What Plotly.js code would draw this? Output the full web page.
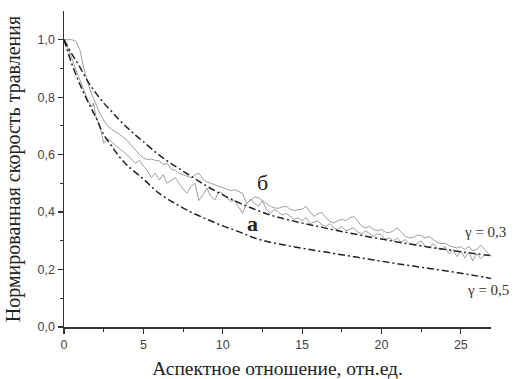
<!DOCTYPE html>
<html>
<head>
<meta charset="utf-8">
<script src="https://cdn.plot.ly/plotly-3.0.1.min.js"></script>
<style>html,body{margin:0;padding:0;background:#fff;}#chart{width:515px;height:379px;}</style>
</head>
<body>
<div id="chart"></div>
<script>
// γ = 0,3 model curve (dash-dot, upper)
const g3X = [0,0.5,1,1.5,2,2.5,3,3.5,4,4.5,5,6,7,8,9,10,11,12,13,14,15,16,17,18,19,20,21,22,23,24,25,26,27];
const g3Y = [1.0,0.95,0.905,0.855,0.815,0.78,0.75,0.72,0.693,0.668,0.645,0.598,0.56,0.525,0.49,0.46,0.433,0.41,0.39,0.375,0.362,0.35,0.338,0.327,0.316,0.306,0.296,0.287,0.278,0.27,0.262,0.255,0.248];

// γ = 0,5 model curve (dash-dot, lower)
const g5X = [0,0.5,1,1.5,2,2.5,3,3.5,4,5,6,7,8,9,10,11,12,13,14,15,16,17,18,19,20,21,22,23,24,25,26,27];
const g5Y = [1.0,0.915,0.845,0.785,0.73,0.67,0.63,0.592,0.562,0.515,0.465,0.43,0.4,0.375,0.352,0.332,0.31,0.295,0.284,0.274,0.265,0.256,0.247,0.238,0.229,0.22,0.212,0.204,0.196,0.187,0.178,0.168];

// curve "б" (measured, upper noisy)
const bX = [0,0.25,0.5,0.75,1,1.25,1.5,1.75,2,2.25,2.5,2.75,3,3.25,3.5,3.75,4,4.25,4.5,4.75,5,5.25,5.5,5.75,6,6.25,6.5,6.75,7,7.25,7.5,7.75,8,8.25,8.5,8.75,9,9.25,9.5,9.75,10,10.25,10.5,10.75,11,11.25,11.5,11.75,12,12.25,12.5,12.75,13,13.25,13.5,13.75,14,14.25,14.5,14.75,15,15.25,15.5,15.75,16,16.25,16.5,16.75,17,17.25,17.5,17.75,18,18.25,18.5,18.75,19,19.25,19.5,19.75,20,20.25,20.5,20.75,21,21.25,21.5,21.75,22,22.25,22.5,22.75,23,23.25,23.5,23.75,24,24.25,24.5,24.75,25,25.25,25.5,25.75,26,26.25,26.5,26.75];
const bY = [1.0,1.0,1.0,0.995,0.965,0.9,0.85,0.81,0.775,0.745,0.72,0.7,0.688,0.68,0.67,0.66,0.648,0.632,0.615,0.6,0.588,0.583,0.585,0.58,0.578,0.565,0.57,0.55,0.545,0.535,0.53,0.525,0.52,0.53,0.535,0.515,0.505,0.5,0.495,0.49,0.487,0.48,0.475,0.478,0.472,0.465,0.43,0.44,0.452,0.45,0.44,0.428,0.42,0.415,0.413,0.418,0.42,0.41,0.405,0.408,0.41,0.42,0.4,0.385,0.395,0.398,0.38,0.368,0.362,0.37,0.375,0.37,0.38,0.385,0.37,0.35,0.345,0.35,0.34,0.335,0.34,0.33,0.328,0.335,0.345,0.33,0.315,0.31,0.312,0.32,0.318,0.31,0.315,0.305,0.295,0.29,0.292,0.283,0.278,0.275,0.28,0.27,0.28,0.265,0.27,0.285,0.27,0.255];

// curve "а" (measured, lower noisy)
const aX = [0,0.25,0.5,0.75,1,1.25,1.5,1.75,1.85,2,2.25,2.5,2.75,3,3.25,3.5,3.75,4,4.25,4.5,4.75,5,5.25,5.5,5.75,6,6.25,6.5,6.75,7,7.25,7.5,7.75,8,8.25,8.5,8.75,9,9.25,9.5,9.75,10,10.25,10.5,10.75,11,11.25,11.5,11.75,12,12.25,12.5,12.75,13,13.25,13.5,13.75,14,14.25,14.5,14.75,15,15.25,15.5,15.75,16,16.25,16.5,16.75,17,17.25,17.5,17.75,18,18.25,18.5,18.75,19,19.25,19.5,19.75,20,20.25,20.5,20.75,21,21.25,21.5,21.75,22,22.25,22.5,22.75,23,23.25,23.5,23.75,24,24.25,24.5,24.75,25,25.25,25.5,25.75,26,26.25,26.5];
const aY = [1.0,0.97,0.935,0.895,0.86,0.82,0.79,0.765,0.78,0.735,0.7,0.64,0.655,0.645,0.632,0.62,0.61,0.598,0.585,0.57,0.58,0.56,0.545,0.52,0.535,0.512,0.53,0.5,0.51,0.52,0.5,0.48,0.466,0.49,0.5,0.44,0.46,0.483,0.455,0.442,0.47,0.465,0.45,0.437,0.44,0.42,0.396,0.43,0.445,0.43,0.42,0.44,0.41,0.395,0.41,0.4,0.39,0.395,0.385,0.375,0.38,0.37,0.38,0.36,0.365,0.37,0.355,0.35,0.36,0.345,0.34,0.35,0.335,0.34,0.345,0.33,0.325,0.335,0.325,0.315,0.325,0.32,0.305,0.31,0.3,0.31,0.295,0.305,0.29,0.285,0.29,0.3,0.282,0.275,0.29,0.275,0.268,0.28,0.255,0.27,0.245,0.265,0.24,0.26,0.23,0.255,0.238,0.25];

const xTickVals = [0,5,10,15,20,25];
const xTickText = ['0','5','10','15','20','25'];
const yTickVals = [0,0.2,0.4,0.6,0.8,1.0];
const yTickText = ['0,0','0,2','0,4','0,6','0,8','1,0'];

const serif = 'Liberation Serif';
const sans = 'Liberation Sans';

const traces = [
  {x:bX, y:bY, mode:'lines', line:{color:'#9e9e9e', width:1}, hoverinfo:'skip'},
  {x:aX, y:aY, mode:'lines', line:{color:'#9e9e9e', width:1}, hoverinfo:'skip'},
  {x:g3X, y:g3Y, mode:'lines', line:{color:'#222', width:1.5, dash:'7px,3px,2px,3px', shape:'spline'}, hoverinfo:'skip'},
  {x:g5X, y:g5Y, mode:'lines', line:{color:'#222', width:1.5, dash:'7px,3px,2px,3px', shape:'spline'}, hoverinfo:'skip'}
];

const layout = {
  width:515, height:379,
  margin:{l:64, r:24, t:11, b:52},
  paper_bgcolor:'#fff', plot_bgcolor:'#fff',
  showlegend:false,
  xaxis:{
    range:[0,26.9], showgrid:false, zeroline:false,
    showline:true, linecolor:'#333', linewidth:1.5,
    ticks:'outside', ticklen:5, tickwidth:1.2, tickcolor:'#333',
    tickvals:xTickVals, ticktext:xTickText,
    minor:{tickvals:[2.5,7.5,12.5,17.5,22.5], ticks:'outside', ticklen:3, tickwidth:1, tickcolor:'#333'},
    tickfont:{family:sans, size:12.5, color:'#444'},
    title:{text:'Аспектное отношение, отн.ед.', font:{family:serif, size:19.5, color:'#222'}, standoff:13}
  },
  yaxis:{
    range:[0,1.1], showgrid:false, zeroline:false,
    showline:true, linecolor:'#333', linewidth:1.5,
    ticks:'outside', ticklen:5, tickwidth:1.2, tickcolor:'#333',
    tickvals:yTickVals, ticktext:yTickText,
    minor:{tickvals:[0.1,0.3,0.5,0.7,0.9], ticks:'outside', ticklen:3, tickwidth:1, tickcolor:'#333'},
    tickfont:{family:sans, size:12.5, color:'#444'},
    title:{text:'Нормированная скорость травления', font:{family:serif, size:20, color:'#222'}, standoff:11}
  },
  annotations:[
    {x:12.5, y:0.502, xref:'x', yref:'y', text:'б', showarrow:false, font:{family:serif, size:22, color:'#222'}},
    {x:11.9, y:0.362, xref:'x', yref:'y', text:'<b>а</b>', showarrow:false, font:{family:serif, size:22, color:'#222'}},
    {x:26.5, y:0.331, xref:'x', yref:'y', text:'γ = 0,3', showarrow:false, font:{family:serif, size:15, color:'#333'}},
    {x:26.7, y:0.129, xref:'x', yref:'y', text:'γ = 0,5', showarrow:false, font:{family:serif, size:15, color:'#333'}}
  ]
};

Plotly.newPlot('chart', traces, layout, {staticPlot:true, displayModeBar:false});
</script>
</body>
</html>
